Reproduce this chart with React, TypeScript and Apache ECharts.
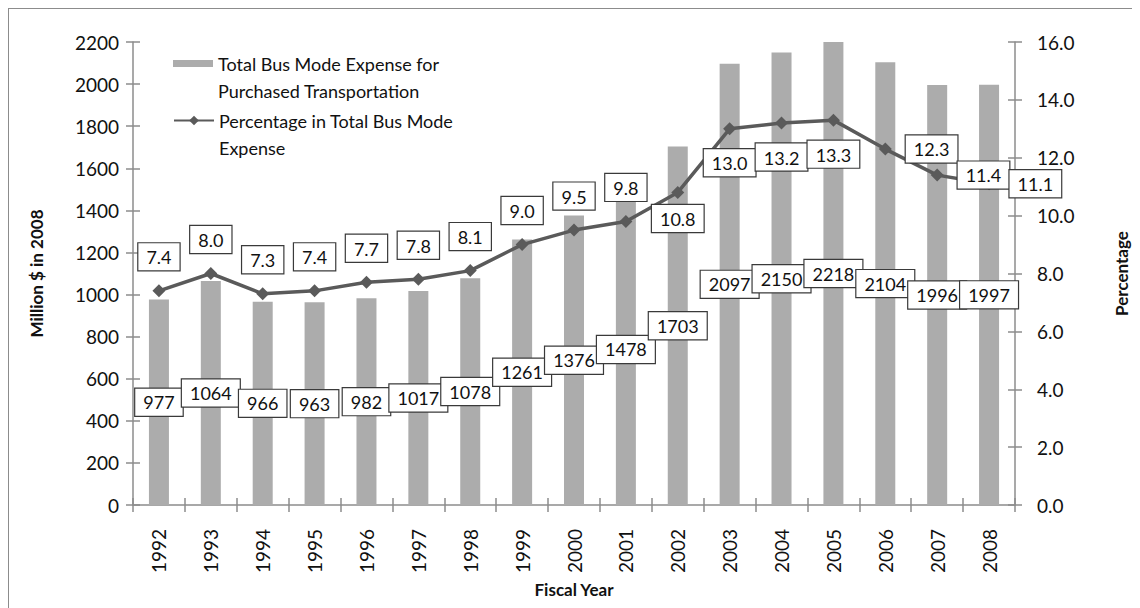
import React, { useEffect, useRef } from "react";
import * as echarts from "echarts";

const years = ["1992","1993","1994","1995","1996","1997","1998","1999","2000","2001","2002","2003","2004","2005","2006","2007","2008"];
const expense = [977,1064,966,963,982,1017,1078,1261,1376,1478,1703,2097,2150,2218,2104,1996,1997];
const percentage = [7.4,8.0,7.3,7.4,7.7,7.8,8.1,9.0,9.5,9.8,10.8,13.0,13.2,13.3,12.3,11.4,11.1];
const leftTicks = { min: 0, max: 2200, interval: 200 };
const rightTicks = { min: 0, max: 16, interval: 2 };

const barName = "Total Bus Mode Expense for Purchased Transportation";
const lineName = "Percentage in Total Bus Mode Expense";

// label placement per point for the percentage line (style, not data)
const pctLabelPlacement = ["top","top","top","top","top","top","top","top","top","top","bottom","bottom","bottom","bottom","right","right","right"];
const pctLabelDistance = [14,14,14,14,14,14,14,14,14,14,6,14,14,14,14,14,14];

const FONT = 'Lato, "Open Sans", "DejaVu Sans", sans-serif';

export default function App() {
  const ref = useRef<HTMLDivElement>(null);
  useEffect(() => {
    if (!ref.current) return;
    const chart = echarts.init(ref.current, undefined, { renderer: "svg" });
    const boxLabel = {
      show: true,
      backgroundColor: "#ffffff",
      borderColor: "#3a3a3a",
      borderWidth: 1.2,
      padding: [5, 8, 4, 8],
      fontSize: 18,
      fontFamily: FONT,
      color: "#111111",
    };
    const lineCol = "#8c8c8c";
    const axisLine = { show: true, lineStyle: { color: lineCol, width: 1.5 } };
    const axisTick = { show: true, length: 7, lineStyle: { color: lineCol, width: 1.5 } };
    const tickLabel = { fontSize: 19, fontFamily: FONT, color: "#111111" };
    const nameStyle = { fontSize: 17, fontWeight: "bold" as const, fontFamily: FONT, color: "#111111" };
    const legendText = { fontSize: 18, lineHeight: 27, fontFamily: FONT, color: "#111111" };

    chart.setOption({
      animation: false,
      backgroundColor: "#ffffff",
      textStyle: { fontFamily: FONT },
      grid: { left: 124, right: 132, top: 33, bottom: 110, containLabel: false },
      legend: [
        {
          data: [barName],
          left: 164,
          top: 14,
          padding: 0,
          itemWidth: 40,
          itemHeight: 7,
          icon: "rect",
          formatter: () => "\nTotal Bus Mode Expense for\nPurchased Transportation",
          textStyle: legendText,
        },
        {
          data: [lineName],
          left: 164,
          top: 71,
          padding: 0,
          itemWidth: 40,
          itemHeight: 12,
          formatter: () => "\nPercentage in Total Bus Mode\nExpense",
          textStyle: legendText,
        },
      ],
      xAxis: [
        {
          type: "category",
          data: years,
          boundaryGap: true,
          name: "Fiscal Year",
          nameLocation: "middle",
          nameGap: 76,
          nameTextStyle: nameStyle,
          axisLine,
          axisTick: { ...axisTick, alignWithLabel: false, interval: 0 },
          axisLabel: { ...tickLabel, rotate: 90, interval: 0, margin: 24 },
        },
        {
          type: "category",
          data: years,
          boundaryGap: true,
          position: "bottom",
          axisLine: { show: false },
          axisTick: { ...axisTick, inside: true, alignWithLabel: false, interval: 0 },
          axisLabel: { show: false },
        },
      ],
      yAxis: [
        {
          type: "value",
          ...leftTicks,
          position: "left",
          name: "Million $ in 2008",
          nameLocation: "middle",
          nameRotate: 90,
          nameGap: 88,
          nameTextStyle: nameStyle,
          axisLine,
          axisTick,
          splitLine: { show: false },
          axisLabel: { ...tickLabel, margin: 14, formatter: (v: number) => String(v) },
        },
        {
          type: "value",
          ...rightTicks,
          position: "right",
          name: "Percentage",
          nameLocation: "middle",
          nameRotate: 90,
          nameGap: 98,
          nameTextStyle: nameStyle,
          axisLine,
          axisTick,
          splitLine: { show: false },
          axisLabel: { ...tickLabel, margin: 22, formatter: (v: number) => v.toFixed(1) },
        },
        {
          type: "value",
          ...leftTicks,
          position: "left",
          axisLine: { show: false },
          axisTick: { ...axisTick, inside: true },
          splitLine: { show: false },
          axisLabel: { show: false },
        },
        {
          type: "value",
          ...rightTicks,
          position: "right",
          axisLine: { show: false },
          axisTick: { ...axisTick, inside: true },
          splitLine: { show: false },
          axisLabel: { show: false },
        },
      ],
      series: [
        {
          name: barName,
          type: "bar",
          data: expense,
          barWidth: 20,
          yAxisIndex: 0,
          itemStyle: { color: "#acacac" },
          label: { ...boxLabel, position: "inside" },
          z: 2,
        },
        {
          name: lineName,
          type: "line",
          yAxisIndex: 1,
          data: percentage.map((v, i) => ({
            value: v,
            label: { position: pctLabelPlacement[i], distance: pctLabelDistance[i] },
          })),
          symbol: "diamond",
          symbolSize: 13,
          lineStyle: { color: "#5a5a5a", width: 3.5 },
          itemStyle: { color: "#5a5a5a" },
          label: { ...boxLabel, distance: 14, formatter: (p: any) => Number(p.value).toFixed(1) },
          z: 3,
        },
      ],
    });
    return () => chart.dispose();
  }, []);
  return (
    <div
      ref={ref}
      style={{ width: 1140, height: 608, border: "1px solid #8c8c8c", boxSizing: "border-box" }}
    />
  );
}
